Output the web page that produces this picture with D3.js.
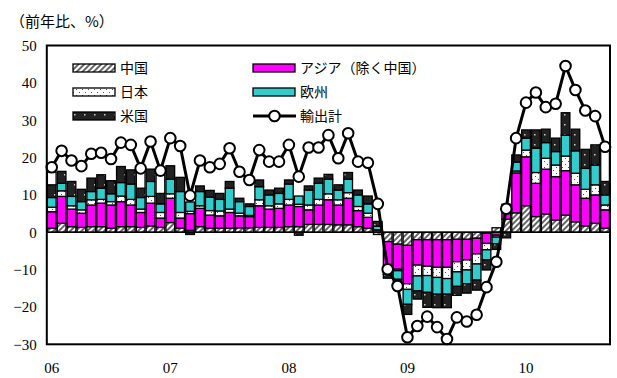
<!DOCTYPE html>
<html>
<head>
<meta charset="utf-8">
<script src="https://cdn.jsdelivr.net/npm/d3@7/dist/d3.min.js"></script>
<style>
  body { margin: 0; background: #fff; }
  svg { display: block; }
</style>
</head>
<body>
<div id="chart"></div>
<script>
// Monthly categories, Jan 2006 – Sep 2010
const months = [];
for (let y = 2006; y <= 2010; y++) {
  for (let m = 1; m <= 12; m++) {
    if (y === 2010 && m > 9) break;
    months.push(y + "-" + String(m).padStart(2, "0"));
  }
}

// Contribution to year-on-year export growth by destination (% points)
const china = [1.1,2.4,1.5,1.3,1.5,1.5,1.1,1.5,1.5,1.3,1.7,1.3, 2.6,1.1,0.5,1.5,1.1,1.1,1.1,1.2,1.2,1.3,1.3,1.3,
               1.5,1.5,2.1,2.1,2.1,2.0,2.0,1.5,1.1,-0.6,-2.5,-3.2, -3.5,-2.0,-2.0,-2.0,-2.0,-1.9,-1.9,-1.6,-0.3,1.2,3.5,5.2,
               7.1,4.2,4.9,3.3,4.6,2.8,1.7,2.4,1.1];
const asia  = [4.4,7.2,4.7,3.8,5.8,6.3,6.2,6.7,5.8,4.0,6.1,2.5, 6.5,2.7,4.5,4.9,3.5,3.3,4.2,3.2,3.0,5.8,4.9,5.1,
               5.8,5.4,3.9,5.2,6.6,5.3,7.1,4.3,2.9,0.5,-6.8,-6.7, -10.3,-6.8,-7.1,-7.4,-7.4,-6.0,-5.5,-4.2,-2.7,-0.8,2.3,10.7,
               13.1,8.9,12.0,11.6,11.9,9.9,7.4,7.6,4.9];
const japan = [1.2,1.5,0.9,0.9,1.4,1.0,0.9,1.5,1.5,0.9,1.8,1.5, 1.2,1.5,0.6,0.7,1.2,1.3,0.9,0.7,0.3,1.6,0.9,1.2,
               1.5,0.6,1.3,1.5,1.6,1.4,1.5,1.1,1.1,0.2,-0.5,-0.4, -1.5,-2.9,-2.5,-2.7,-3.0,-2.7,-2.7,-2.7,-1.7,-0.5,0.5,0.5,
               1.8,2.9,2.9,3.1,3.9,3.1,2.4,2.7,1.3];
const europe= [2.6,2.0,2.5,2.2,2.2,3.0,2.1,3.6,4.1,3.1,4.0,2.3, 3.9,5.6,2.5,3.8,3.6,3.1,5.6,3.1,2.4,3.5,2.9,2.8,
               4.1,2.2,4.0,4.3,3.9,2.6,3.6,3.1,2.5,0.9,-1.5,-2.3, -4.0,-4.0,-4.5,-4.5,-4.2,-3.9,-3.7,-4.3,-2.7,-1.8,1.2,2.4,
               3.2,6.5,4.2,3.6,5.6,6.0,5.6,5.3,2.7];
const us    = [3.4,3.2,4.0,3.3,3.6,3.6,3.5,4.3,3.8,2.5,3.3,2.8, 3.6,3.8,-0.6,1.5,1.8,1.6,1.8,0.9,0.7,1.8,1.3,1.4,
               1.1,-0.8,1.1,1.4,1.3,1.4,1.8,1.3,2.1,1.3,-1.0,-1.9, -2.7,-2.2,-4.0,-3.6,-3.6,-2.4,-2.5,-2.7,-2.7,-1.5,-1.5,1.9,
               2.2,4.9,3.6,3.6,6.0,5.8,5.1,5.4,3.6];
// Unlabelled residual segment shown in a few months (plain white)
const others = [3.4,0,0,0,0,0,0,0,0,5.3,0,4.9, 0,0,0,0,0,0,0,0,0,0,0,0,
                0,0,0,0,0,0,0,0,0,0,0,0, 0,0,0,0,0,0,0,0,0,0,0,0,
                0,0,0,0,0,0,0,0,8.5];
// Total exports, year-on-year % change
const total = [17.4,21.8,19.2,17.7,21.0,21.3,19.6,24.0,23.4,17.1,24.3,16.5, 25.2,23.1,9.8,19.2,17.4,18.3,22.5,16.2,14.0,22.0,18.9,18.9,
               23.4,14.9,22.7,22.7,26.0,19.8,26.5,18.9,18.6,7.6,-9.9,-14.4, -28.1,-25.1,-22.6,-25.4,-28.6,-22.8,-23.9,-22.1,-14.7,-7.9,6.3,25.2,
               34.7,37.4,33.5,34.4,44.5,38.1,32.6,31.1,22.9];

const seriesKeys = ["china", "asia", "japan", "europe", "us", "others"];
const seriesNames = { china: "中国", asia: "アジア（除く中国）", japan: "日本", europe: "欧州", us: "米国" };
const yTicks = [50, 40, 30, 20, 10, 0, -10, -20, -30];
const yearLabels = ["06", "07", "08", "09", "10"];

const rows = months.map((m, i) => ({
  month: m, china: china[i], asia: asia[i], japan: japan[i], europe: europe[i], us: us[i],
  others: others[i], total: total[i]
}));

const W = 617, H = 378;
const svg = d3.select("#chart").append("svg").attr("width", W).attr("height", H);

const defs = svg.append("defs");
// diagonal hatch for China
const hatch = defs.append("pattern").attr("id", "p-china").attr("patternUnits", "userSpaceOnUse")
  .attr("width", 4).attr("height", 4).attr("patternTransform", "rotate(45)");
hatch.append("rect").attr("width", 4).attr("height", 4).attr("fill", "#ffffff");
hatch.append("rect").attr("width", 2).attr("height", 4).attr("fill", "#666666");
// sparse dots on white for Japan
const jp = defs.append("pattern").attr("id", "p-japan").attr("patternUnits", "userSpaceOnUse")
  .attr("width", 6).attr("height", 6);
jp.append("rect").attr("width", 6).attr("height", 6).attr("fill", "#ffffff");
jp.append("rect").attr("x", 1).attr("y", 2).attr("width", 1).attr("height", 1).attr("fill", "#555");
jp.append("rect").attr("x", 4).attr("y", 5).attr("width", 1).attr("height", 1).attr("fill", "#555");
// sparse light dots on black for US
const usP = defs.append("pattern").attr("id", "p-us").attr("patternUnits", "userSpaceOnUse")
  .attr("width", 10).attr("height", 10);
usP.append("rect").attr("width", 10).attr("height", 10).attr("fill", "#222222");
usP.append("rect").attr("x", 4).attr("y", 4).attr("width", 1.5).attr("height", 1.5).attr("fill", "#cccccc");

const fills = { china: "url(#p-china)", asia: "#ff00ff", japan: "url(#p-japan)", europe: "#33cccc",
                us: "url(#p-us)", others: "#ffffff" };

const plot = { left: 46.8, right: 610, top: 45.5, bottom: 344.3 };

const x = d3.scaleBand().domain(months).range([plot.left, plot.right]).paddingInner(0.12).paddingOuter(0.06);
const y = d3.scaleLinear().domain([-30, 50]).range([plot.bottom, plot.top]);

const stack = d3.stack().keys(seriesKeys).offset(d3.stackOffsetDiverging);
const stacked = stack(rows);

// bars
const gBars = svg.append("g");
stacked.forEach(layer => {
  gBars.append("g").selectAll("rect").data(layer.filter(d => d[1] !== d[0])).join("rect")
    .attr("x", d => x(d.data.month))
    .attr("width", x.bandwidth())
    .attr("y", d => y(Math.max(d[0], d[1])))
    .attr("height", d => Math.abs(y(d[0]) - y(d[1])))
    .attr("fill", fills[layer.key])
    .attr("stroke", "#000")
    .attr("stroke-width", 1.3);
});

// zero line
svg.append("line").attr("x1", plot.left).attr("x2", plot.right)
  .attr("y1", y(0)).attr("y2", y(0)).attr("stroke", "#000").attr("stroke-width", 1.5);

// total line with markers
const line = d3.line().x(d => x(d.month) + x.bandwidth() / 2).y(d => y(d.total));
svg.append("path").datum(rows).attr("d", line)
  .attr("fill", "none").attr("stroke", "#000").attr("stroke-width", 3).attr("stroke-linejoin", "round");
svg.append("g").selectAll("circle").data(rows).join("circle")
  .attr("cx", d => x(d.month) + x.bandwidth() / 2)
  .attr("cy", d => y(d.total))
  .attr("r", 5.3)
  .attr("fill", "#fff").attr("stroke", "#000").attr("stroke-width", 2);

// frame
svg.append("rect").attr("x", plot.left).attr("y", plot.top)
  .attr("width", plot.right - plot.left).attr("height", plot.bottom - plot.top)
  .attr("fill", "none").attr("stroke", "#000").attr("stroke-width", 2);

// y axis labels
const yAxis = d3.axisLeft(y).tickValues(yTicks).tickSize(0).tickPadding(10);
const gy = svg.append("g").attr("transform", `translate(${plot.left},0)`).call(yAxis);
gy.select(".domain").remove();
gy.selectAll("text").attr("font-family", "Liberation Serif, serif").attr("font-size", 15).attr("fill", "#000");

// x axis year labels at each January
const jan = months.filter(m => m.endsWith("-01"));
const xAxis = d3.axisBottom(x).tickValues(jan).tickSize(0).tickPadding(18)
  .tickFormat((d, i) => yearLabels[i]);
const gx = svg.append("g").attr("transform", `translate(0,${plot.bottom})`).call(xAxis);
gx.select(".domain").remove();
gx.selectAll("text").attr("font-family", "Liberation Serif, serif").attr("font-size", 15).attr("fill", "#000");

// unit label
svg.append("text").attr("x", 10).attr("y", 27)
  .attr("font-family", "Noto Sans CJK JP, sans-serif").attr("font-size", 15).text("（前年比、%）");

// legend
const legendItems = [
  { key: "china", col: 0, row: 0 }, { key: "japan", col: 0, row: 1 }, { key: "us", col: 0, row: 2 },
  { key: "asia", col: 1, row: 0 }, { key: "europe", col: 1, row: 1 }, { key: "total", col: 1, row: 2 }
];
const legend = svg.append("g");
legendItems.forEach(it => {
  const lx = it.col === 0 ? 73 : 253;
  const ly = 68 + it.row * 24;
  if (it.key === "total") {
    legend.append("line").attr("x1", lx).attr("x2", lx + 43).attr("y1", ly).attr("y2", ly)
      .attr("stroke", "#000").attr("stroke-width", 3);
    legend.append("circle").attr("cx", lx + 21.5).attr("cy", ly).attr("r", 5.3)
      .attr("fill", "#fff").attr("stroke", "#000").attr("stroke-width", 2);
  } else {
    legend.append("rect").attr("x", lx).attr("y", ly - 4).attr("width", 42).attr("height", 8)
      .attr("fill", fills[it.key]).attr("stroke", "#000").attr("stroke-width", 1.3);
  }
  legend.append("text").attr("x", lx + 47).attr("y", ly + 5)
    .attr("font-family", "Noto Sans CJK JP, sans-serif").attr("font-size", 14)
    .text(it.key === "total" ? "輸出計" : seriesNames[it.key]);
});
</script>
</body>
</html>
